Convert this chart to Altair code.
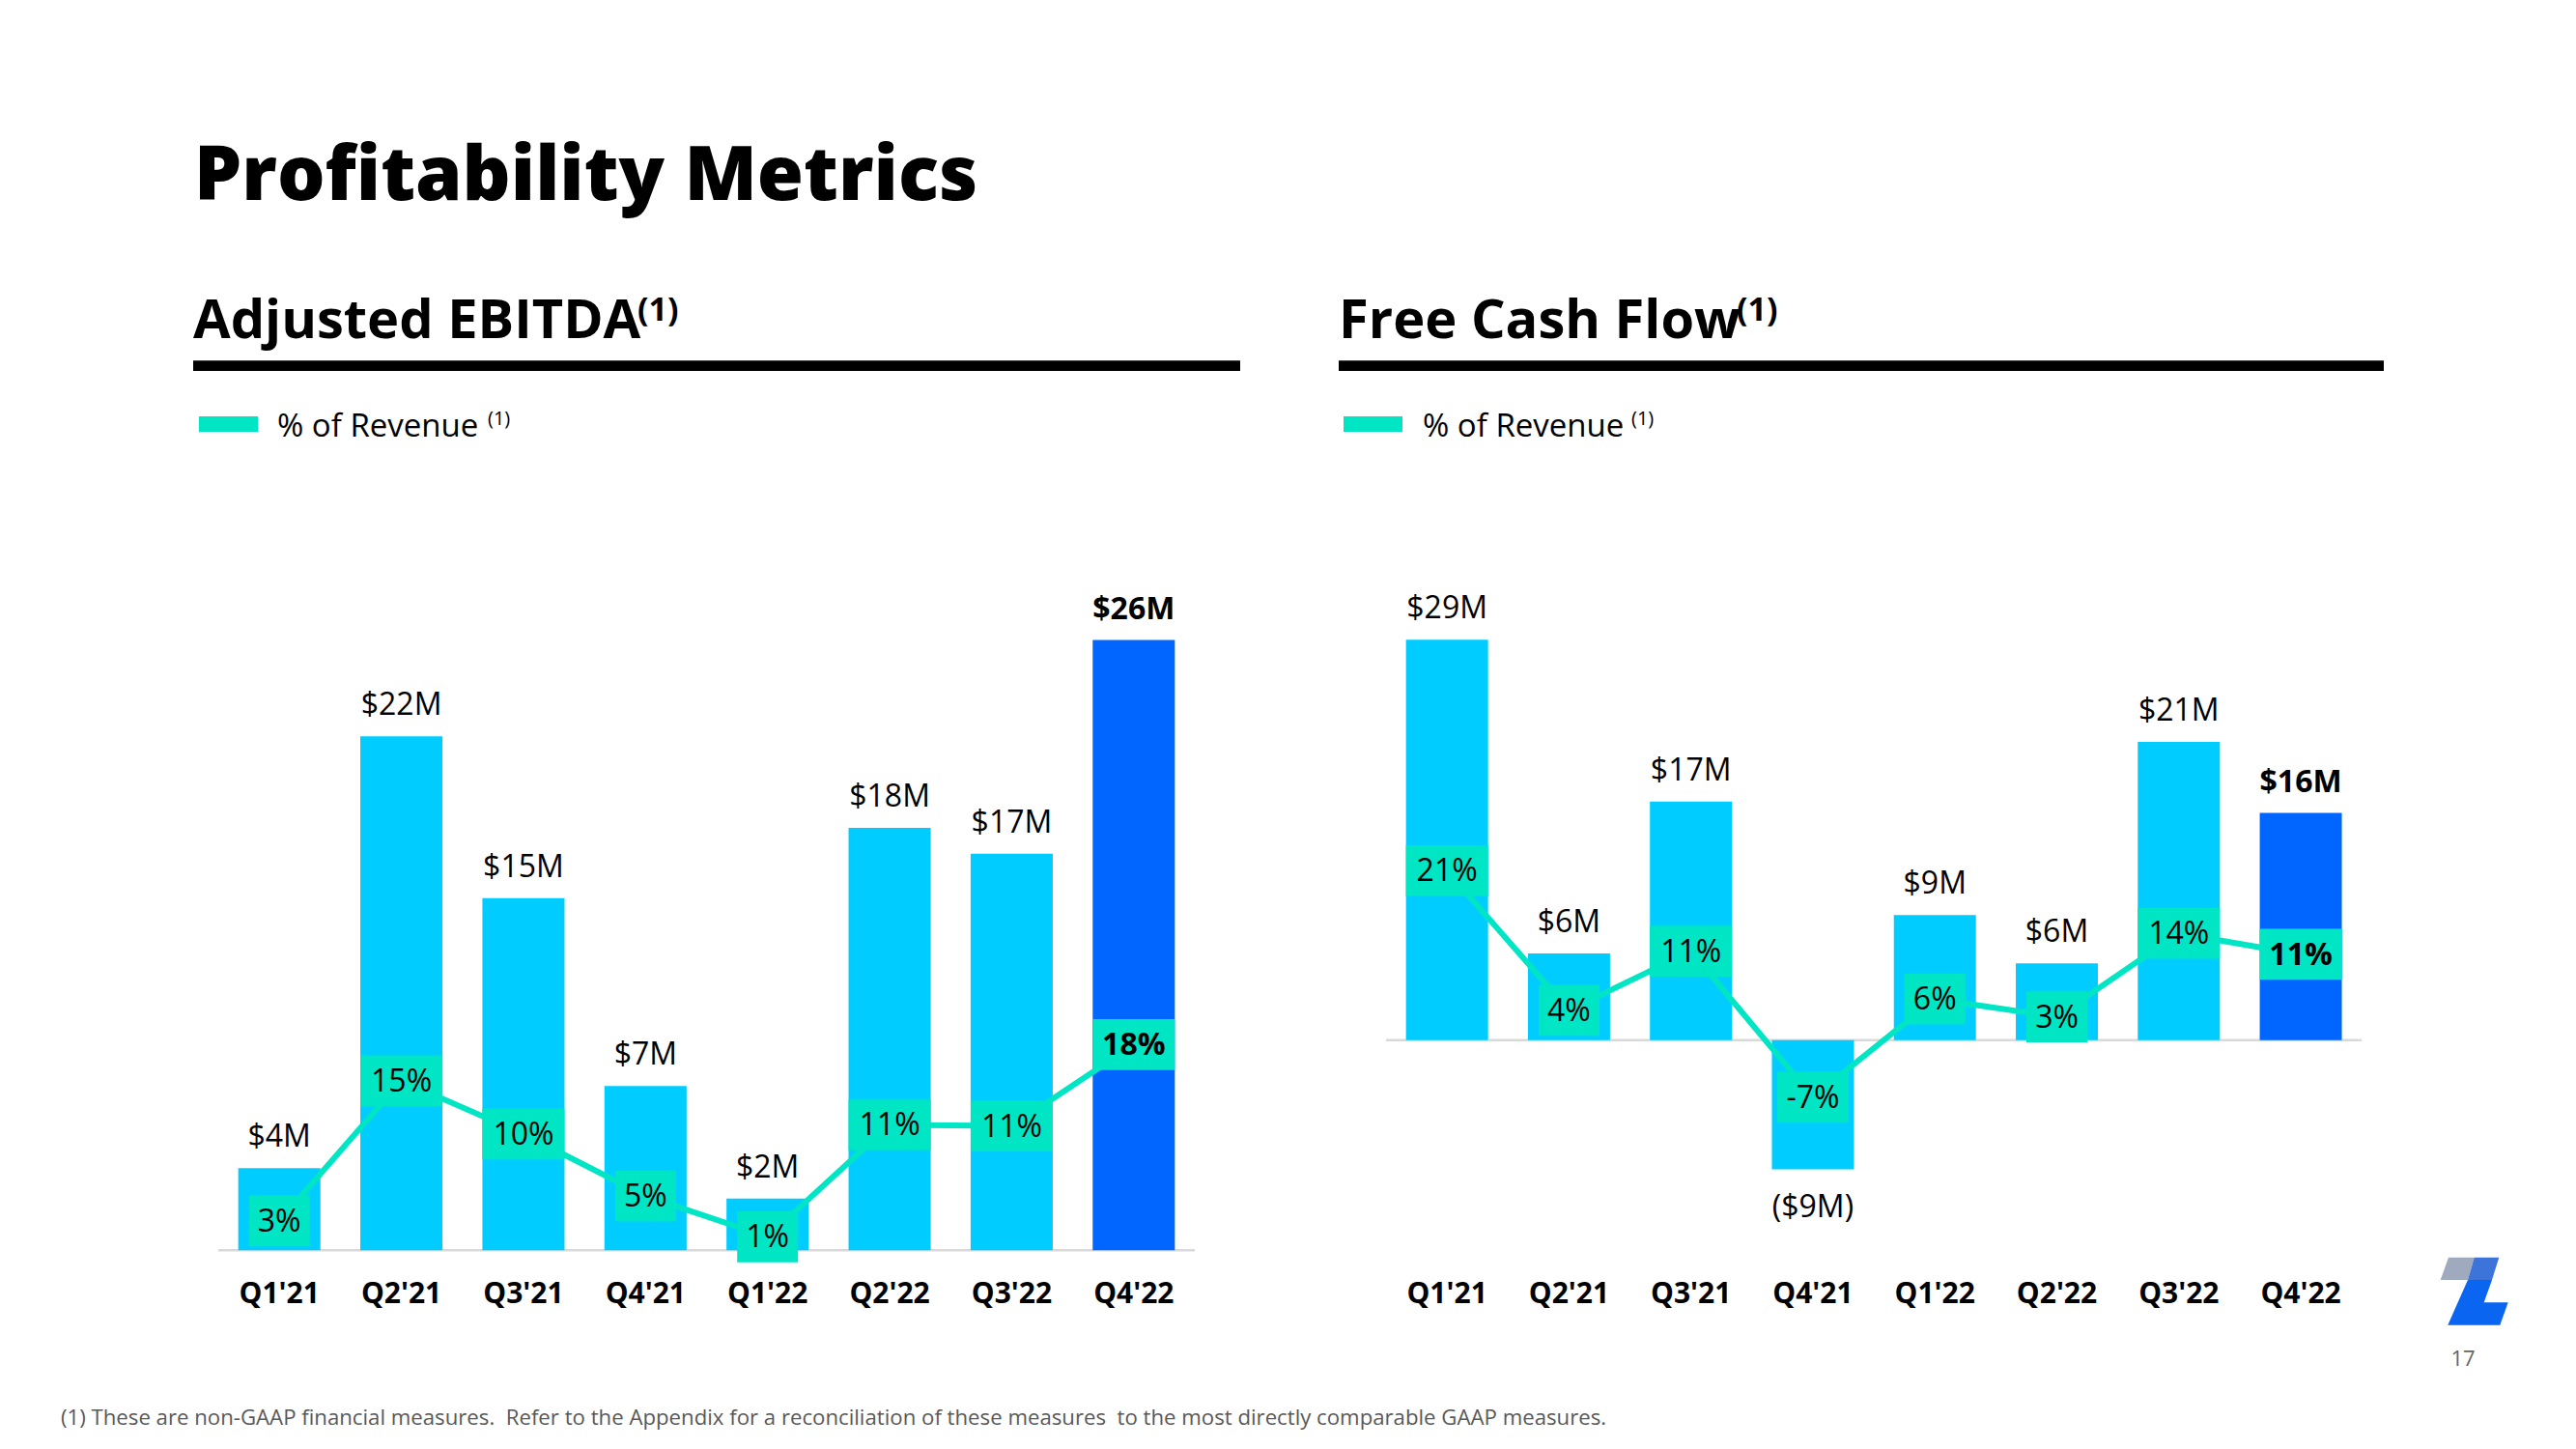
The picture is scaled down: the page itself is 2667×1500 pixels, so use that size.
import altair as alt
import pandas as pd

# ---------------- data ----------------
quarters = ["Q1'21", "Q2'21", "Q3'21", "Q4'21", "Q1'22", "Q2'22", "Q3'22", "Q4'22"]

ebitda_m = [3.5, 21.9, 15.0, 7.0, 2.2, 18.0, 16.9, 26.0]
ebitda_labels = ["$4M", "$22M", "$15M", "$7M", "$2M", "$18M", "$17M", "$26M"]
ebitda_pct = [2.4, 14.8, 10.1, 4.6, 1.0, 10.9, 10.8, 18.0]
ebitda_pct_labels = ["3%", "15%", "10%", "5%", "1%", "11%", "11%", "18%"]

fcf_m = [28.2, 6.1, 16.8, -9.1, 8.8, 5.4, 21.0, 16.0]
fcf_labels = ["$29M", "$6M", "$17M", "($9M)", "$9M", "$6M", "$21M", "$16M"]
fcf_pct = [20.9, 3.7, 11.0, -7.0, 5.1, 2.9, 13.2, 10.6]
fcf_pct_labels = ["21%", "4%", "11%", "-7%", "6%", "3%", "14%", "11%"]

# ---------------- styles ----------------
FONT = "Open Sans"
LIGHT = "#00CCFF"
DARK = "#0066FF"
MINT = "#00E5C4"
GRAY_AXIS = "#D9D9D9"


def make_df(m, mlab, pct, plab):
    return pd.DataFrame({
        "quarter": quarters,
        "idx": list(range(len(quarters))),
        "m": m,
        "mlab": mlab,
        "pct": pct,
        "plab": plab,
        "hl": [q == quarters[-1] for q in quarters],
        "boxw": [63 + 22 * (sum(c.isdigit() for c in s) - 1) + (11 if s.startswith("-") else 0) for s in plab],
    })


def text_layer(txt, x, y, size, weight=400, color="#000000", align="left", baseline="alphabetic"):
    return alt.Chart(pd.DataFrame({"t": [txt]})).mark_text(
        font=FONT, fontSize=size, fontWeight=weight, color=color, align=align, baseline=baseline
    ).encode(x=alt.value(x), y=alt.value(y), text="t:N")


def panel(df, xr, money_dom, money_rng, pct_dom, pct_rng, half, xlab_y):
    def X():
        return alt.X("quarter:N", axis=None,
                     scale=alt.Scale(domain=quarters, range=xr, paddingInner=0.327, paddingOuter=0.1635))

    def YM(field="m"):
        return alt.Y(f"{field}:Q", axis=None,
                     scale=alt.Scale(domain=money_dom, range=money_rng, nice=False, zero=False))

    def YP(field="pct"):
        return alt.Y(f"{field}:Q", axis=None,
                     scale=alt.Scale(domain=pct_dom, range=pct_rng, nice=False, zero=False))

    base = alt.Chart(df)
    baseline = alt.Chart(pd.DataFrame({"a": [0]})).mark_rule(color=GRAY_AXIS, strokeWidth=2.5).encode(
        x=alt.value(xr[0]), x2=alt.value(xr[1]), y=alt.value(money_rng[0]))
    bars = base.mark_bar().encode(
        x=X(), y=YM(), y2=alt.datum(0),
        color=alt.condition(alt.datum.hl, alt.value(DARK), alt.value(LIGHT)))
    line = base.mark_line(color=MINT, strokeWidth=6).encode(x=X(), y=YP(), order="idx:Q")
    boxes = base.transform_calculate(
        lo=f"datum.pct - {half}", hi=f"datum.pct + {half}"
    ).mark_bar(color=MINT).encode(
        x=X(), y=YP("lo"), y2="hi:Q", size=alt.Size("boxw:Q", scale=None))
    pct_reg = base.transform_filter("!datum.hl").mark_text(
        font=FONT, fontSize=32, color="#000000", baseline="middle", dy=1).encode(x=X(), y=YP(), text="plab:N")
    pct_bold = base.transform_filter("datum.hl").mark_text(
        font=FONT, fontSize=32, fontWeight=700, color="#000000", baseline="middle", dy=1).encode(
        x=X(), y=YP(), text="plab:N")
    m_pos = base.transform_filter("!datum.hl && datum.m >= 0").mark_text(
        font=FONT, fontSize=32, color="#000000", baseline="alphabetic", dy=-22).encode(
        x=X(), y=YM(), text="mlab:N")
    m_neg = base.transform_filter("!datum.hl && datum.m < 0").mark_text(
        font=FONT, fontSize=32, color="#000000", baseline="alphabetic", dy=50).encode(
        x=X(), y=YM(), text="mlab:N")
    m_bold = base.transform_filter("datum.hl").mark_text(
        font=FONT, fontSize=32, fontWeight=700, color="#000000", baseline="alphabetic", dy=-22).encode(
        x=X(), y=YM(), text="mlab:N")
    xlabels = base.mark_text(
        font=FONT, fontSize=30, fontWeight=700, color="#000000", baseline="middle").encode(
        x=X(), y=alt.value(xlab_y), text="quarter:N")
    return [baseline, bars, line, boxes, pct_reg, pct_bold, m_pos, m_neg, m_bold, xlabels]


left_df = make_df(ebitda_m, ebitda_labels, ebitda_pct, ebitda_pct_labels)
right_df = make_df(fcf_m, fcf_labels, fcf_pct, fcf_pct_labels)

left = panel(left_df, [218, 1229], [0, 30], [1286.3, 1286.3 - 30 * 24.3],
             [0, 20], [1284, 1284 - 20 * 11.7], 2.25, 1332)
right = panel(right_df, [1427, 2437.2], [0, 30], [1068.7, 1068.7 - 30 * 14.7],
              [0, 20], [1069, 1069 - 20 * 8.4], 3.14, 1332)

# ---------------- decorations ----------------
def rule(x1, x2, y, w, color="#000000"):
    return alt.Chart(pd.DataFrame({"a": [0]})).mark_rule(color=color, strokeWidth=w).encode(
        x=alt.value(x1), x2=alt.value(x2), y=alt.value(y))


def swatch(x1, x2, y1, y2, color=MINT):
    return alt.Chart(pd.DataFrame({"a": [0]})).mark_rect(color=color).encode(
        x=alt.value(x1), x2=alt.value(x2), y=alt.value(y1), y2=alt.value(y2))


def logo_part(path, color, cx, cy):
    return alt.Chart(pd.DataFrame({"a": [0]})).mark_point(
        shape=path, size=4, filled=True, fill=color, stroke=None, opacity=1, strokeWidth=0
    ).encode(x=alt.value(cx), y=alt.value(cy))


FOOTNOTE = ("(1) These are non-GAAP financial measures.\u00a0 Refer to the Appendix for a reconciliation "
            "of these measures\u00a0 to the most directly comparable GAAP measures.")

decor = [
    text_layer("Profitability Metrics", 193, 199, 78, 800),
    text_layer("Adjusted EBITDA", 192, 342, 56, 700),
    text_layer("(1)", 652, 324, 34, 700),
    text_layer("Free Cash Flow", 1378, 342, 56, 700),
    text_layer("(1)", 1790, 324, 34, 700),
    rule(192, 1276, 370.7, 10.7),
    rule(1378, 2460, 370.7, 10.7),
    swatch(198, 259, 423, 439),
    swatch(1383, 1444, 423, 439),
    text_layer("% of Revenue", 279, 444, 33),
    text_layer("(1)", 497, 432, 20),
    text_layer("% of Revenue", 1465, 444, 33),
    text_layer("(1)", 1681, 432, 20),
    text_layer(FOOTNOTE, 55, 1460, 22.2, 400, "#595959", "left", "middle"),
    text_layer("17", 2542, 1399, 22, 400, "#666666", "center", "middle"),
    logo_part("M-26,-35.3L0.7,-35.3L-6,-12L-34.3,-12Z", "#A0AABF", 2553, 1329),
    logo_part("M0.7,-35.3L26.3,-35.3L19,-12L-6,-12Z", "#3D74D9", 2553, 1329),
    logo_part("M-6,-12L19,-12L10.7,11.3L35.7,11.3L27.3,34.7L-26.7,34.7Z", "#0A66F0", 2553, 1329),
]

chart = alt.layer(*(left + right + decor)).resolve_scale(
    x="independent", y="independent"
).properties(
    width=2651, height=1484, padding=0,
    autosize=alt.AutoSizeParams(type="none"),
    background="#FFFFFF",
).configure_view(stroke=None)

chart.save("out.html", embed_options={"renderer": "svg", "actions": False})
